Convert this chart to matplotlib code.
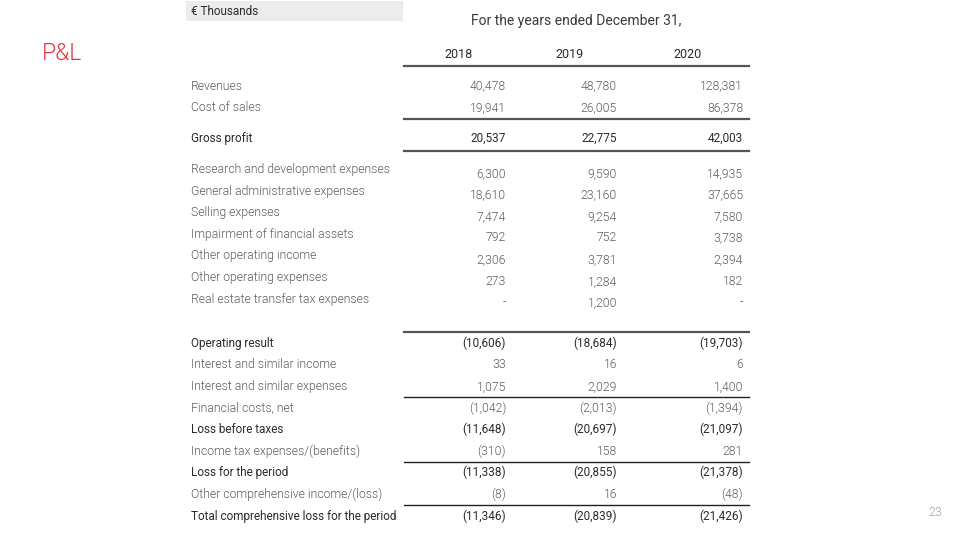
import matplotlib
matplotlib.use("Agg")
import matplotlib.pyplot as plt
from matplotlib.patches import Rectangle

plt.rcParams['font.family'] = ['Roboto', 'DejaVu Sans']

years = ["2018", "2019", "2020"]

row_labels = [
    "Revenues", "Cost of sales", "Gross profit",
    "Research and development expenses", "General administrative expenses",
    "Selling expenses", "Impairment of financial assets", "Other operating income",
    "Other operating expenses", "Real estate transfer tax expenses",
    "Operating result", "Interest and similar income", "Interest and similar expenses",
    "Financial costs, net", "Loss before taxes", "Income tax expenses/(benefits)",
    "Loss for the period", "Other comprehensive income/(loss)",
    "Total comprehensive loss for the period",
]

vals_2018 = [40478, 19941, 20537, 6300, 18610, 7474, 792, 2306, 273, None,
             -10606, 33, 1075, -1042, -11648, -310, -11338, -8, -11346]
vals_2019 = [48780, 26005, 22775, 9590, 23160, 9254, 752, 3781, 1284, 1200,
             -18684, 16, 2029, -2013, -20697, 158, -20855, 16, -20839]
vals_2020 = [128381, 86378, 42003, 14935, 37665, 7580, 3738, 2394, 182, None,
             -19703, 6, 1400, -1394, -21097, 281, -21378, -48, -21426]

bold_rows = {"Gross profit", "Operating result", "Loss before taxes",
             "Loss for the period", "Total comprehensive loss for the period"}


def fmt(v):
    if v is None:
        return "-"
    if v < 0:
        return f"({abs(v):,})"
    return f"{v:,}"


# row layout (pixels from top)
y_pos = []
y = 86
for i in range(len(row_labels)):
    if i > 0:
        if i in (2, 3):
            y += 31
        elif i == 10:
            y += 44
        else:
            y += 21.6
    y_pos.append(y)

fig = plt.figure(figsize=(9.6, 5.4), dpi=100)
ax = fig.add_axes([0, 0, 1, 1])
ax.set_xlim(0, 960)
ax.set_ylim(540, 0)
ax.axis("off")

grey = "#5e5e5e"
dark = "#2b2b2b"

ax.text(42, 54, "P&L", color="#e5323e", fontsize=16.5, fontweight=300,
        ha="left", va="center")

ax.add_patch(Rectangle((186, 1), 217, 20, color="#ececec", lw=0))
ax.text(191, 11.5, "€ Thousands", color=dark, fontsize=8.5, ha="left", va="center")

ax.text(576, 21, "For the years ended December 31,", color="#3a3a3a", fontsize=10,
        ha="center", va="center")

col_centers = [459, 570, 688]
col_right = [506, 617, 743]
for yr, xc in zip(years, col_centers):
    ax.text(xc, 54, yr, color=dark, fontsize=9, ha="center", va="center")

ax.plot([404, 749], [66, 66], color="#555555", lw=1.6)

for i, lab in enumerate(row_labels):
    b = lab in bold_rows
    c = dark if b else grey
    w = 400 if b else 300
    fs = 8.5 if b else 8.8
    ax.text(191, y_pos[i], lab, color=c, fontsize=fs, fontweight=w,
            ha="left", va="center")
    off = 3.5 if 3 <= i <= 9 else 0
    for xr, series in zip(col_right, (vals_2018, vals_2019, vals_2020)):
        ax.text(xr, y_pos[i] + off, fmt(series[i]), color=c, fontsize=fs,
                fontweight=w, ha="right", va="center")

# separator lines between rows
for a, b_ in [(1, 2), (2, 3), (9, 10), (12, 13), (15, 16), (17, 18)]:
    if (a, b_) == (1, 2):
        ly = y_pos[1] + 11
    elif (a, b_) == (2, 3):
        ly = y_pos[2] + 12
    elif (a, b_) == (9, 10):
        ly = y_pos[10] - 11
    else:
        ly = (y_pos[a] + y_pos[b_]) / 2
    lw = 1.6 if (a, b_) in [(1, 2), (2, 3), (9, 10)] else 1.0
    col = "#555555" if lw > 1 else "#222222"
    ax.plot([404, 749], [ly, ly], color=col, lw=lw)

ax.text(942, 512, "23", color="#a0a0a0", fontsize=9, fontweight=300,
        ha="right", va="center")

fig.savefig("out.png", dpi=100)
